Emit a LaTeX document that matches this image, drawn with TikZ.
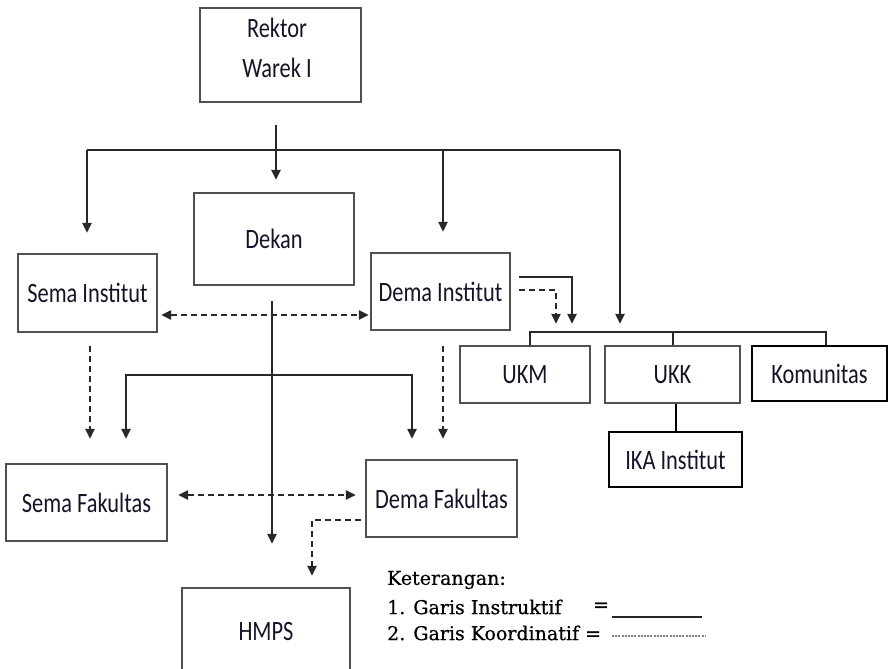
\documentclass[tikz,border=0pt]{standalone}
\usepackage{fontspec}
\setmainfont{Carlito}
\newfontfamily\boxfont[FakeStretch=0.8]{Carlito}
\newfontfamily\legfont[FakeBold=0.6]{DejaVu Serif}
\usetikzlibrary{arrows.meta,calc}
\definecolor{boxc}{RGB}{80,80,80}
\definecolor{linec}{RGB}{40,40,40}
\definecolor{txtc}{RGB}{20,20,40}
\begin{document}
\begin{tikzpicture}[x=1pt,y=-1pt,
  box/.style={draw=boxc,line width=2.2pt,text=txtc,inner sep=0pt,
    font=\boxfont\fontsize{28}{32}\selectfont},
  boxk/.style={box,draw=black},
  txt/.style={text=txtc,inner sep=0pt,font=\boxfont\fontsize{28}{32}\selectfont},
  ln/.style={draw=linec,line width=2pt},
  lnk/.style={draw=black,line width=2pt},
  arr/.style={ln,-{Triangle[width=9pt,length=10pt]}},
  arrb/.style={ln,{Triangle[width=9pt,length=10pt]}-{Triangle[width=9pt,length=10pt]}},
  darr/.style={arr,dash pattern=on 6pt off 4pt},
  ddarr/.style={arrb,dash pattern=on 6pt off 4pt},
  leg/.style={text=black,inner sep=0pt,font=\legfont\fontsize{19}{22}\selectfont},
]
\useasboundingbox (0,0) rectangle (889,669);

% boxes
\node[box,minimum width=161pt,minimum height=94pt] (rektor) at (280.5,55) {};
\node[txt] (rektorT) at (277,28) {Rektor};
\node[txt] (warekT) at (277,68) {Warek I};
\node[box,minimum width=160pt,minimum height=92pt] (dekan) at (274,239) {Dekan};
\node[box,minimum width=139pt,minimum height=78pt] (semaI) at (87.5,293) {Sema Institut};
\node[box,minimum width=139pt,minimum height=77pt] (demaI) at (440.5,291.5) {Dema Institut};
\node[box,minimum width=130pt,minimum height=57pt] (ukm) at (525,374.5) {UKM};
\node[box,minimum width=135pt,minimum height=57pt] (ukk) at (672.5,374.5) {UKK};
\node[boxk,minimum width=135pt,minimum height=55pt] (kom) at (819.5,373.5) {Komunitas};
\node[boxk,minimum width=133pt,minimum height=55pt] (ika) at (675.5,459.5) {IKA Institut};
\node[box,minimum width=161pt,minimum height=77pt] (semaF) at (86.5,502.5) {Sema Fakultas};
\node[box,minimum width=151pt,minimum height=77pt] (demaF) at (441.5,498.5) {Dema Fakultas};
\node[box,minimum width=168pt,minimum height=87pt] (hmps) at (266,631.5) {HMPS};

% instructive lines from Rektor
\coordinate (rk) at (276,125);
\coordinate (busL) at (87,150);
\coordinate (busR) at (620,150);
\draw[ln] (busL) -- (busR);
\draw[arr] (rk) -- ($(dekan.north)+(2,-12)$);
\draw[arr] (busL) -- ($(semaI.north)+(-0.5,-20)$);
\draw[arr] ($(busL -| demaI.north)+(2.5,0)$) -- ($(demaI.north)+(2.5,-20)$);
\draw[arr] (busR) -- ($(ukm.north -| busR)+(0,-21)$);

% bus to UKM / UKK / Komunitas
\draw[ln] ($(ukm.north)+(5,0)$) -- ++(0,-13) -| ($(kom.north)+(6,0)$);
\draw[ln] (ukk.north) -- ++(0,-13);
\draw[lnk] (ukk.south -| ika.north) -- (ika.north);

% Dema Institut to bus
\draw[arr] ($(demaI.east)+(8,-14.5)$) -| ($(ukm.north)+(47,-21)$);
\draw[darr] ($(demaI.east)+(8,-1.5)$) -| ($(ukm.north)+(31,-21)$);

% Dekan line
\draw[arr] ($(dekan.south)+(-2,15)$) -- ($(hmps.north)+(6,-43)$);

% coordination lines
\draw[ddarr] ($(semaI.east)+(3,22)$) -- ($(demaI.west)+(-1,23.5)$);
\draw[darr] ($(semaI.south)+(2.5,13)$) -- ($(semaF.north)+(3.5,-24)$);
\draw[darr] ($(demaI.south)+(2.5,15)$) -- ($(demaF.north)+(1.5,-20)$);
\draw[arrb] ($(semaF.north)+(39.5,-24)$) |- ($(demaF.north)+(-29.5,-84)$) -- ($(demaF.north)+(-29.5,-20)$);
\draw[ddarr] ($(semaF.east)+(10,-7.5)$) -- ($(demaF.west)+(-9,-3.5)$);
\draw[darr] ($(demaF.west)+(-4,21.5)$) -| ($(hmps.north)+(46,-11)$);

% legend
\node[leg,anchor=west] (ket) at (387,580) {Keterangan:};
\node[leg,anchor=west] (g1) at (387,607) {1. Garis Instruktif};
\node[leg] (eq1) at (601,607) {=};
\node[leg,anchor=west] (g2) at (387,633) {2. Garis Koordinatif =};
\coordinate (l1a) at (612,617);
\coordinate (l1b) at (702,617);
\coordinate (l2a) at (612,636);
\coordinate (l2b) at (706,636);
\draw[draw=black!85,line width=1.6pt] (l1a) -- (l1b);
\draw[draw=black!50,line width=2pt,dash pattern=on 2pt off 1.2pt] (l2a) -- (l2b);
\end{tikzpicture}
\end{document}
